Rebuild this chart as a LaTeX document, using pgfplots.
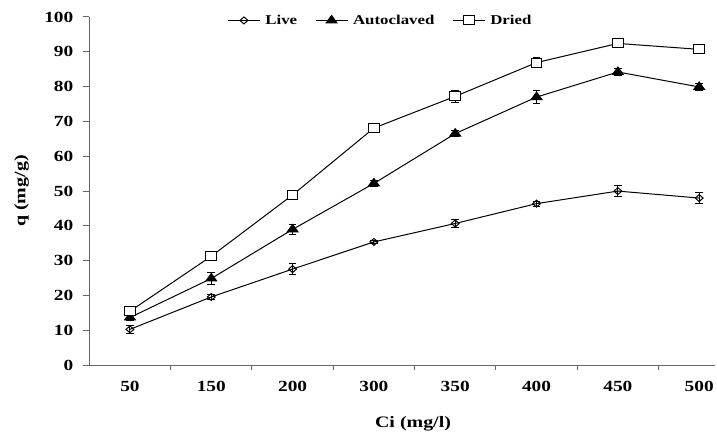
\documentclass[border=0pt]{standalone}
\usepackage{pgfplots}
\pgfplotsset{compat=1.18}
\usepackage{fontspec}
\setmainfont{Liberation Serif}[FakeStretch=1.25]
\pgfplotstableread{
x y e
0 10.3 1.2
1 19.6 0.6
2 27.6 1.5
3 35.4 0.5
4 40.7 1.2
5 46.4 0.7
6 50.0 1.6
7 48.0 1.5
}\live
\pgfplotstableread{
x y e
0 13.7 0.8
1 24.9 1.8
2 39.0 1.5
3 52.2 0.8
4 66.5 0.8
5 77.0 1.8
6 84.2 1.0
7 79.9 1.0
}\auto
\pgfplotstableread{
x y e
0 15.5 0.6
1 31.3 0.6
2 48.9 0.8
3 68.1 0.6
4 77.2 1.7
5 86.9 1.4
6 92.4 0.6
7 90.7 0.6
}\dried
\begin{document}
\begin{tikzpicture}
\begin{axis}[
  name=ax,
  scale only axis,
  width=627.5pt, height=349pt,
  xmin=-0.5, xmax=7.2,
  ymin=0, ymax=100,
  clip=false,
  axis x line*=bottom, axis y line*=left,
  axis line style={black!60, line width=1pt},
  ytick={0,10,...,100},
  xtick={0,...,7},
  xticklabels={50,150,200,300,350,400,450,500},
  minor xtick={0.5,1.5,2.5,3.5,4.5,5.5,6.5},
  major tick length=6.5pt,
  minor tick length=4.5pt,
  major x tick style={draw=none},
  tick align=outside,
  tick style={black!60, line width=1pt},
  /pgf/number format/assume math mode=true,
  tick label style={font=\fontsize{15.5}{17}\selectfont\bfseries},
  xticklabel style={yshift=-6pt},
  yticklabel style={xshift=-6pt},
  xlabel={Ci (mg/l)}, ylabel={q (mg/g)},
  label style={font=\fontsize{16}{18}\selectfont\bfseries},
  xlabel style={at={(axis description cs:0.517,-0.178)}, anchor=base},
  ylabel style={at={(axis description cs:-0.108,0.5)}, anchor=center},
  legend style={draw=none, fill=none, at={(axis description cs:0.465,0.99)}, anchor=center, legend columns=3,
    font=\fontsize{13.5}{15}\selectfont\bfseries,
    /tikz/every even column/.append style={column sep=16pt},
    /tikz/every odd column/.append style={column sep=3pt}},
  legend image code/.code={\draw[black, line width=1pt, solid] (0pt,0pt) -- (32pt,0pt);
    \draw[mark repeat=2,mark phase=2] plot coordinates {(0pt,0pt)(16pt,0pt)(32pt,0pt)};},
  legend cell align=left,
  error bars/error bar style={line width=1pt, black},
  error bars/error mark options={rotate=90, mark size=3.8pt, line width=1pt, black},
  line/.style={black, line width=1pt, forget plot, error bars/.cd, y dir=both, y explicit},
]
\addplot[line] table[x=x, y=y, y error=e] {\live};
\addplot[line] table[x=x, y=y, y error=e] {\auto};
\addplot[line] table[x=x, y=y, y error=e] {\dried};
\addplot[only marks, line width=1pt, mark=diamond, mark size=3.5pt, mark options={solid, draw=black, xscale=1.5}]
  table[x=x, y=y] {\live};
\addlegendentry{Live}
\addplot[only marks, line width=1pt, mark=triangle*, mark size=5pt, mark options={solid, fill=black, draw=black, xscale=1.25}]
  table[x=x, y=y] {\auto};
\addlegendentry{Autoclaved}
\addplot[only marks, line width=1pt, mark=square*, mark size=4.5pt, mark options={solid, fill=white, draw=black, xscale=1.2}]
  table[x=x, y=y] {\dried};
\addlegendentry{Dried}
\end{axis}
\path ([shift={(-89.5pt,-71pt)}]ax.south west) ([shift={(0pt,17pt)}]ax.north east);
\end{tikzpicture}
\end{document}
